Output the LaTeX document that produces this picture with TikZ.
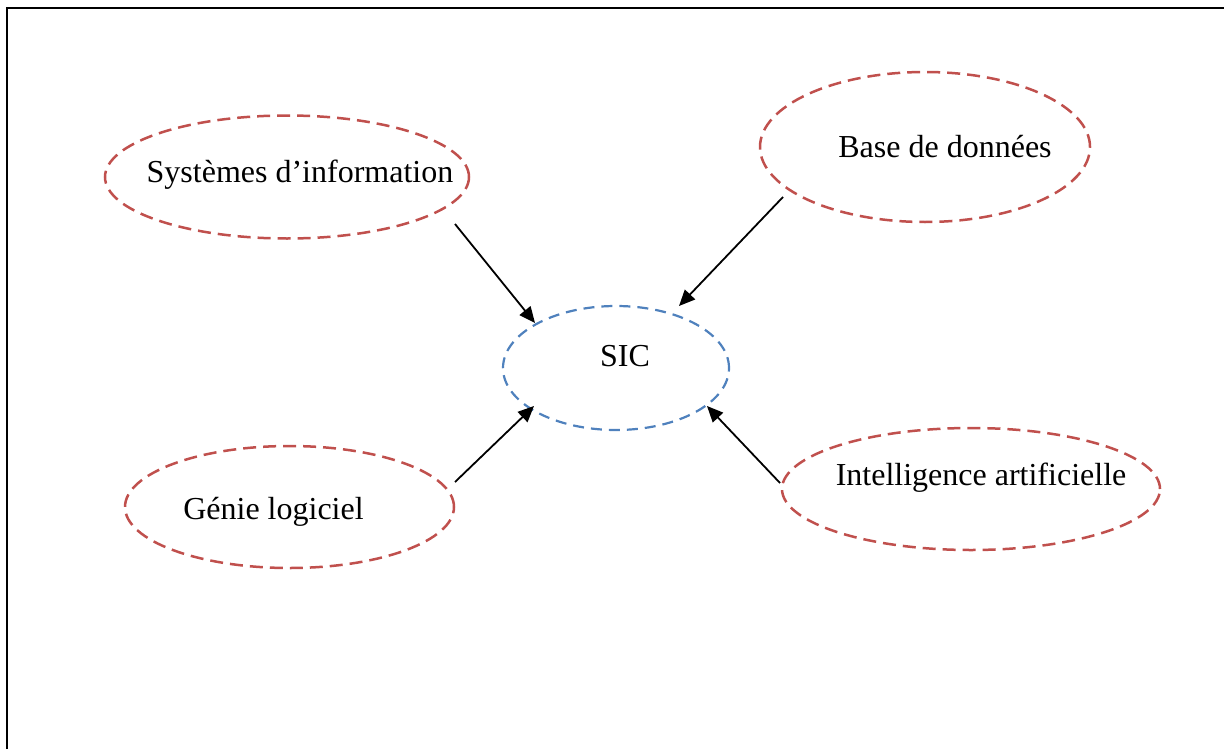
\documentclass[tikz,border=0pt]{standalone}
\usepackage{fontspec}
\setmainfont{Liberation Serif}
\usetikzlibrary{arrows.meta,shapes.geometric}
\definecolor{topicred}{HTML}{C0504D}
\definecolor{corblue}{HTML}{4F81BD}
\begin{document}
\begin{tikzpicture}[x=0.5pt,y=-0.5pt,
  bubble/.style={ellipse,draw=topicred,line width=1.25pt,
    dash pattern=on 6.5pt off 3.5pt,inner sep=0pt},
  core/.style={ellipse,draw=corblue,line width=1.1pt,
    dash pattern=on 5.5pt off 3.5pt,inner sep=0pt},
  caption/.style={font=\fontsize{16pt}{19pt}\selectfont,inner sep=0pt},
  feed/.style={line width=0.9pt,-{Triangle[length=8pt,width=7pt]}}]
\useasboundingbox (0,0) rectangle (1224,749);
% page frame, open at right and bottom
\draw[line width=1.1pt] (7,749) -- (7,8) -- (1224,8);

% the core notion
\node[core,minimum width=113pt,minimum height=62pt,
  label={[caption,xshift=4.5pt,yshift=6pt]center:SIC}] (sic) at (616,368) {};

% neighbouring fields
\node[bubble,minimum width=182pt,minimum height=61.5pt,
  label={[caption,xshift=6.5pt,yshift=1pt]center:Systèmes d’information}] (si) at (287,177) {};
\node[bubble,minimum width=165pt,minimum height=75pt,
  label={[caption,xshift=10pt]center:Base de données}] (bd) at (925,147) {};
\node[bubble,minimum width=164.5pt,minimum height=61pt,
  label={[caption,xshift=-8pt,yshift=-2.5pt]center:Génie logiciel}] (gl) at (289.5,507) {};
\node[bubble,minimum width=189pt,minimum height=61pt,
  label={[caption,xshift=5pt,yshift=5.5pt]center:Intelligence artificielle}] (ia) at (971,489) {};

% arrow ends
\coordinate (si-out) at (455,224);
\coordinate (bd-out) at (783,197);
\coordinate (gl-out) at (455,482);
\coordinate (ia-out) at (780,483);
\coordinate (sic-nw) at (535,323);
\coordinate (sic-ne) at (679,306);
\coordinate (sic-sw) at (534,406);
\coordinate (sic-se) at (707,406);

\draw[feed] (si-out) -- (sic-nw);
\draw[feed] (bd-out) -- (sic-ne);
\draw[feed] (gl-out) -- (sic-sw);
\draw[feed] (ia-out) -- (sic-se);
\end{tikzpicture}
\end{document}
